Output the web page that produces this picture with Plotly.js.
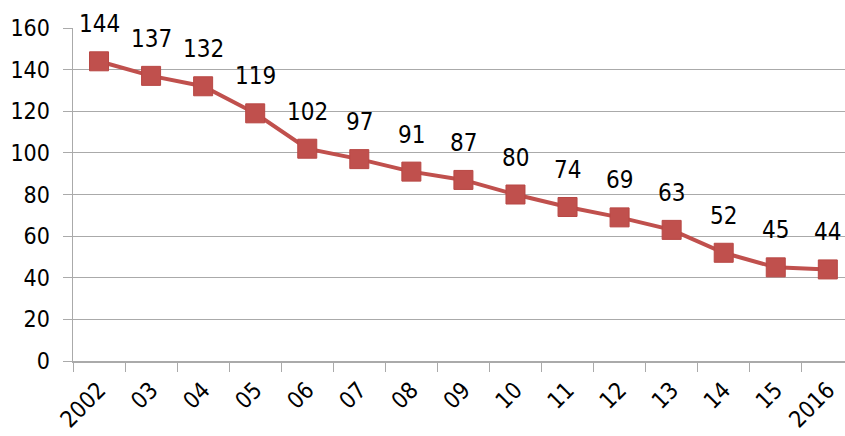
<!DOCTYPE html>
<html>
<head>
<meta charset="utf-8">
<script src="https://cdn.plot.ly/plotly-3.0.1.min.js"></script>
<style>html,body{margin:0;padding:0;background:#fff;}#chart{width:845px;height:436px;}</style>
</head>
<body>
<div id="chart"></div>
<script>
var categories = ["2002","03","04","05","06","07","08","09","10","11","12","13","14","15","2016"];
var values = [144,137,132,119,102,97,91,87,80,74,69,63,52,45,44];
var yTicks = [0,20,40,60,80,100,120,140,160];

var FONT = "DejaVu Sans Condensed, DejaVu Sans, sans-serif";
var RED = "#c0504d";

var trace = {
  x: categories,
  y: values,
  type: "scatter",
  mode: "lines+markers",
  line: {color: RED, width: 4},
  marker: {symbol: "square", size: 19, color: RED, line: {color: "#b84744", width: 1}},
  hoverinfo: "skip",
  cliponaxis: false
};

var annotations = categories.map(function(c, i){
  return {x: i, xref: "x", y: values[i], yref: "y", text: String(values[i]), showarrow: false,
          yshift: 37, font: {family: FONT, size: 24, color: "#000"}};
});

var layout = {
  width: 845, height: 436,
  margin: {l: 73, r: 0, t: 28, b: 75, pad: 0},
  paper_bgcolor: "#fff", plot_bgcolor: "#fff",
  showlegend: false,
  xaxis: {
    type: "category",
    range: [-0.5, 14.33],
    tickson: "boundaries",
    ticks: "outside", ticklen: 9, tickwidth: 1, tickcolor: "#aaaaaa",
    showgrid: false, showline: true, linecolor: "#aaaaaa", linewidth: 1.5,
    tickangle: -45,
    tickfont: {family: FONT, size: 23, color: "#000"},
    ticklabelstandoff: 5,
    zeroline: false, fixedrange: true
  },
  yaxis: {
    range: [0, 160],
    tickvals: yTicks,
    ticktext: yTicks.map(String),
    ticks: "outside", ticklen: 9, tickwidth: 1, tickcolor: "#aaaaaa",
    showgrid: true, gridcolor: "#aaaaaa", gridwidth: 1,
    showline: true, linecolor: "#aaaaaa", linewidth: 1.5,
    zeroline: false,
    tickfont: {family: FONT, size: 23, color: "#000"},
    ticklabelstandoff: 8,
    fixedrange: true
  },
  annotations: annotations
};

Plotly.newPlot("chart", [trace], layout, {staticPlot: true, displayModeBar: false});
</script>
</body>
</html>
